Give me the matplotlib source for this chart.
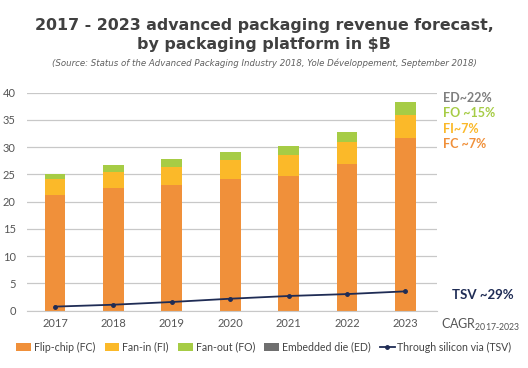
import matplotlib
matplotlib.use("Agg")
import matplotlib.pyplot as plt
import numpy as np

years = ["2017", "2018", "2019", "2020", "2021", "2022", "2023"]
flip_chip = [21.2, 22.45, 23.05, 24.1, 24.8, 26.9, 31.6]
fan_in = [2.9, 2.95, 3.25, 3.55, 3.7, 4.05, 4.3]
fan_out = [0.9, 1.3, 1.5, 1.45, 1.8, 1.9, 2.4]
embedded_die = [0.005, 0.006, 0.007, 0.009, 0.011, 0.013, 0.016]
tsv = [0.75, 1.1, 1.6, 2.2, 2.7, 3.05, 3.55]

cagr_labels = ["ED~22%", "FO ~15%", "FI~7%", "FC ~7%"]
cagr_colors = ["#7f7f7f", "#a6cc45", "#fbb929", "#f0903a"]

c_fc, c_fi, c_fo, c_ed, c_tsv = "#f0903a", "#fbb929", "#a6cc45", "#6f6f6f", "#1f2c55"

fig = plt.figure(figsize=(5.28, 3.68), dpi=100)
ax = fig.add_axes([27 / 528, 1 - 310.7 / 368, 410 / 528, 218 / 368])

x = np.arange(len(years))
w = 0.355
fc = np.array(flip_chip)
fi = np.array(fan_in)
fo = np.array(fan_out)
ed = np.array(embedded_die)
b1 = ax.bar(x, fc, w, color=c_fc, label="Flip-chip (FC)", zorder=2)
b2 = ax.bar(x, fi, w, bottom=fc, color=c_fi, label="Fan-in (FI)", zorder=2)
b3 = ax.bar(x, fo, w, bottom=fc + fi, color=c_fo, label="Fan-out (FO)", zorder=2)
b4 = ax.bar(x, ed, w, bottom=fc + fi + fo, color=c_ed, label="Embedded die (ED)", zorder=2)
ln, = ax.plot(x, tsv, color=c_tsv, lw=1.3, marker="o", ms=2.5,
              label="Through silicon via (TSV)", zorder=3)

ax.set_xlim(-0.48, 6.54)
ax.set_ylim(0, 40)
ax.set_yticks(range(0, 41, 5))
ax.set_xticks(x)
ax.set_xticklabels(years)
ax.yaxis.grid(True, color="#c8c8c8", lw=0.9, zorder=0)
for s in ax.spines.values():
    s.set_visible(False)
ax.spines["bottom"].set_visible(True)
ax.spines["bottom"].set_color("#c8c8c8")
ax.tick_params(length=0, labelsize=8, colors="#555555", pad=5)
ax.tick_params(axis="y", pad=8)
for lab in ax.get_xticklabels() + ax.get_yticklabels():
    lab.set_family("Lato")

fig.text(0.5, 1 - 35 / 368, "2017 - 2023 advanced packaging revenue forecast,\nby packaging platform in $B",
         ha="center", va="center", fontsize=11.4, fontweight="bold", color="#404040",
         linespacing=1.3)
fig.text(0.5, 1 - 63 / 368, "(Source: Status of the Advanced Packaging Industry 2018, Yole Développement, September 2018)",
         ha="center", va="center", fontsize=6.2, style="italic", color="#606060")

for i, (t, c) in enumerate(zip(cagr_labels, cagr_colors)):
    fig.text(443 / 528, 1 - (98 + i * 15.3) / 368, t, ha="left", va="center",
             fontsize=9, fontweight="bold", color=c, family="Lato")
fig.text(452 / 528, 1 - 295 / 368, "TSV ~29%", ha="left", va="center",
         fontsize=9.5, fontweight="bold", color=c_tsv, family="Lato")
fig.text(441 / 528, 1 - 325 / 368, r"CAGR$_{\mathregular{2017\text{-}2023}}$", ha="left", va="center",
         fontsize=9, color="#555555", family="Lato")

handles = [b1, b2, b3, b4, ln]
fig.legend(handles, [h.get_label() for h in handles], loc="center",
           bbox_to_anchor=(0.5, 1 - 347 / 368), ncol=5, frameon=False,
           handlelength=1.4, handletextpad=0.25, columnspacing=0.9,
           prop={"family": "Lato", "size": 7.6}, labelcolor="#444444")

fig.savefig("out.png", dpi=100)
